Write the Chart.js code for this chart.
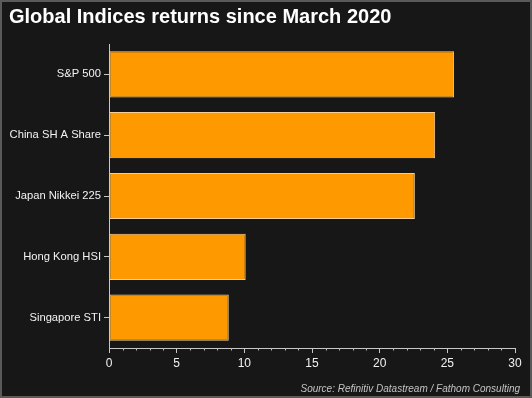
<!DOCTYPE html>
<html lang="en">
<head>
    <meta charset="UTF-8">
    <title>Global Indices returns since March 2020</title>
    <script src="https://cdn.jsdelivr.net/npm/chart.js"></script>
    <style>
        html, body { margin: 0; padding: 0; background: #171717; }
        #wrap {
            width: 532px; height: 398px; box-sizing: border-box;
            border: 2px solid #5a5a5a; background: #171717;
        }
        #wrap canvas { display: block; }
    </style>
</head>
<body>
<div id="wrap"><canvas id="chart" width="528" height="394"></canvas></div>

<script>
const indices = ['S&P 500', 'China SH A Share', 'Japan Nikkei 225', 'Hong Kong HSI', 'Singapore STI'];
const returns = [25.5, 24.1, 22.6, 10.1, 8.85];
const xTicks = [0, 5, 10, 15, 20, 25, 30];

const font = 'Arial, "Liberation Sans", sans-serif';

// small unit ticks under the x axis
const minorTicks = {
    id: 'minorTicks',
    afterDraw(chart) {
        const x = chart.scales.x;
        const c = chart.ctx;
        c.save();
        c.strokeStyle = '#bdbdbd';
        c.lineWidth = 1;
        c.beginPath();
        for (let v = xTicks[0]; v <= xTicks[xTicks.length - 1]; v++) {
            if (v % 5 === 0) continue;
            const px = Math.round(x.getPixelForValue(v)) + 0.5;
            c.moveTo(px, x.top);
            c.lineTo(px, x.top + 2.5);
        }
        c.stroke();
        c.restore();
    }
};

new Chart(document.getElementById('chart'), {
    type: 'bar',
    data: {
        labels: indices,
        datasets: [{
            data: returns,
            backgroundColor: '#ff9900',
            borderColor: '#f3cf95',
            borderWidth: 1,
            borderSkipped: false,
            barPercentage: 0.76,
            categoryPercentage: 1
        }]
    },
    options: {
        indexAxis: 'y',
        responsive: false,
        animation: false,
        layout: { padding: { left: 7, right: 10, top: 0, bottom: 1 } },
        plugins: {
            legend: { display: false },
            tooltip: { enabled: false },
            title: {
                display: true,
                text: 'Global Indices returns since March 2020',
                align: 'start',
                color: '#ffffff',
                font: { family: font, size: 20, weight: 'bold', lineHeight: 1.2 },
                padding: { top: 3, bottom: 15 }
            },
            subtitle: {
                display: true,
                position: 'bottom',
                align: 'end',
                text: 'Source: Refinitiv Datastream / Fathom Consulting',
                color: '#c4c4c4',
                font: { family: font, size: 10, style: 'italic', lineHeight: 1.2 },
                padding: { top: 4, bottom: 0 }
            }
        },
        scales: {
            x: {
                min: xTicks[0],
                max: xTicks[xTicks.length - 1],
                afterBuildTicks: s => { s.ticks = xTicks.map(v => ({ value: v })); },
                afterFit: s => { s.height = 31; s.paddingRight = 15; },
                border: { color: '#c8c8c8', width: 1 },
                grid: { drawOnChartArea: false, tickLength: 5, color: '#c8c8c8' },
                ticks: {
                    color: '#f2f2f2',
                    padding: 3,
                    maxRotation: 0,
                    font: { family: font, size: 12 }
                }
            },
            y: {
                afterFit: s => { s.width = 100; },
                border: { color: '#c8c8c8', width: 1 },
                grid: { drawOnChartArea: false, offset: false, tickLength: 5, color: '#c8c8c8' },
                ticks: {
                    color: '#f2f2f2',
                    padding: 3,
                    font: { family: font, size: 11.2 }
                }
            }
        }
    },
    plugins: [minorTicks]
});
</script>
</body>
</html>
